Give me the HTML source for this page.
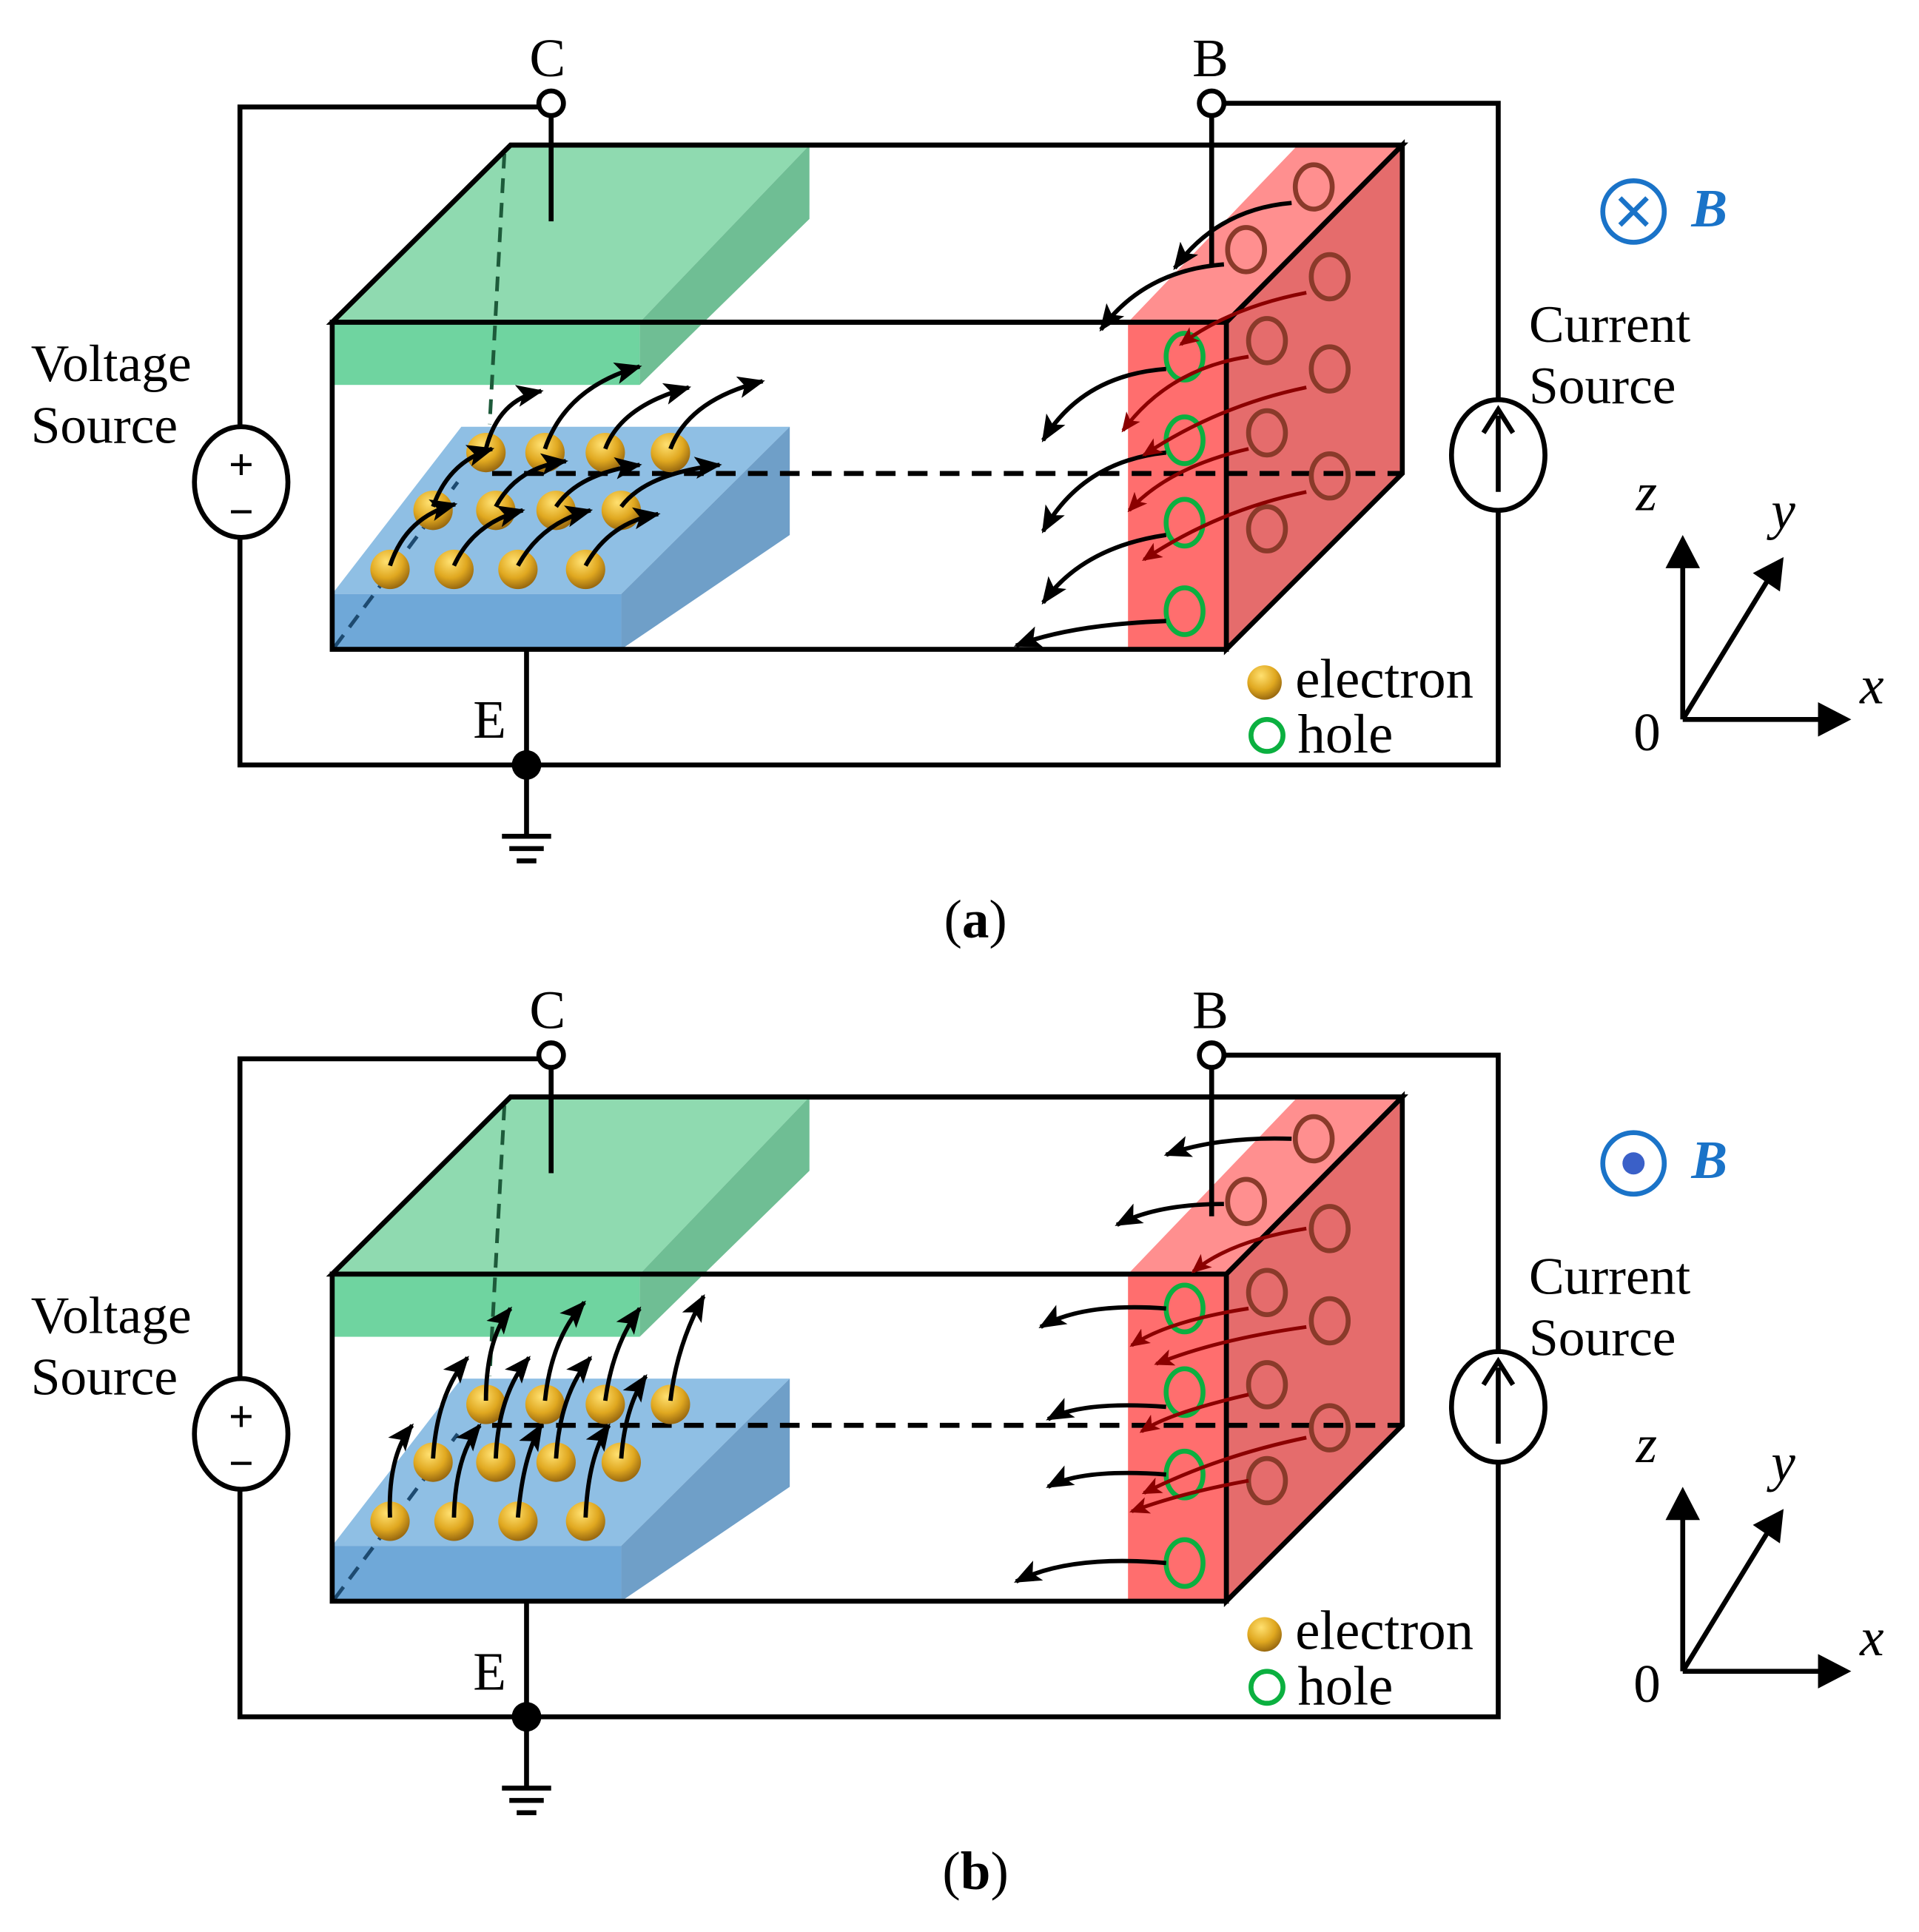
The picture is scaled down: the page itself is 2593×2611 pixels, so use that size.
<!DOCTYPE html>
<html><head><meta charset="utf-8"><style>
html,body{margin:0;padding:0;background:#fff}
svg{display:block}
text{font-family:"Liberation Serif",serif}
</style></head><body>
<svg width="2593" height="2611" viewBox="0 0 1560 1571" xmlns="http://www.w3.org/2000/svg">
<defs>
<marker id="ah" markerWidth="8" markerHeight="8" refX="6" refY="4" orient="auto" markerUnits="userSpaceOnUse" viewBox="0 0 8 8"><path d="M0,0 L8,4 L0,8 L2,4 z" fill="#000"/></marker>
<marker id="ab" markerWidth="22" markerHeight="18" refX="20" refY="9" orient="auto" markerUnits="userSpaceOnUse"><path d="M0,0 L22,9 L0,18 L5,9 z" fill="#000"/></marker>
<marker id="ar" markerWidth="16" markerHeight="14" refX="14" refY="7" orient="auto" markerUnits="userSpaceOnUse"><path d="M0,0 L16,7 L0,14 L4,7 z" fill="#8b0000"/></marker>
<radialGradient id="eg" cx="0.4" cy="0.3" r="0.7"><stop offset="0" stop-color="#ffe070"/><stop offset="0.6" stop-color="#e0a820"/><stop offset="1" stop-color="#9a6a10"/></radialGradient>
<g id="base">
  <!-- device -->
  <polygon points="270,262 415,118 1140,118 997,262" fill="#fff" stroke="#000" stroke-width="4"/>
  <polygon points="270,262 415,118 658,118 520,262" fill="#8fdab0"/>
  <polygon points="520,262 658,118 658,178 520,313" fill="#6fbe94"/>
  <rect x="270" y="262" width="250" height="51" fill="#6fd4a0"/>
  <polygon points="270,483 375,347 642,347 505,483" fill="#8fbfe4"/>
  <polygon points="505,483 642,347 642,435 505,528" fill="#6f9fc8"/>
  <rect x="270" y="483" width="235" height="45" fill="#6fa8d8"/>
  <polygon points="917,262 1055,118 1140,118 997,262" fill="#ff8f8f"/>
  <rect x="917" y="262" width="80" height="266" fill="#ff6e6e"/>
  <polygon points="997,262 1140,118 1140,385 997,528" fill="#e56c6c"/>
  <line x1="410" y1="125" x2="398" y2="345" stroke="#1d5a3a" stroke-width="3" stroke-dasharray="12,8"/>
  <line x1="272" y1="526" x2="372" y2="392" stroke="#1d4a70" stroke-width="3" stroke-dasharray="12,8"/>
  <line x1="400" y1="385" x2="1140" y2="385" stroke="#000" stroke-width="4" stroke-dasharray="16,10"/>
  <g fill="none" stroke="#000" stroke-width="4">
    <rect x="270" y="262" width="727" height="266"/>
    <polygon points="270,262 415,118 1140,118 997,262"/>
    <polygon points="997,262 1140,118 1140,385 997,528"/>
  </g>
  <!-- circuit wires -->
  <g fill="none" stroke="#000" stroke-width="4">
    <polyline points="438,87 195,87 195,622 1218,622 1218,84 995,84"/>
    <line x1="448" y1="94" x2="448" y2="180"/>
    <line x1="985" y1="94" x2="985" y2="215"/>
    <line x1="428" y1="528" x2="428" y2="680"/>
    <line x1="408" y1="680" x2="448" y2="680"/>
    <line x1="414" y1="690" x2="442" y2="690"/>
    <line x1="420" y1="700" x2="436" y2="700"/>
  </g>
  <circle cx="448" cy="84" r="10" fill="#fff" stroke="#000" stroke-width="4"/>
  <circle cx="985" cy="84" r="10" fill="#fff" stroke="#000" stroke-width="4"/>
  <circle cx="428" cy="622" r="12" fill="#000"/>
  <ellipse cx="196" cy="392" rx="38" ry="45" fill="#fff" stroke="#000" stroke-width="4"/>
  <text x="196" y="390" font-size="36" font-weight="bold" text-anchor="middle">+</text>
  <text x="196" y="428" font-size="36" font-weight="bold" text-anchor="middle">−</text>
  <ellipse cx="1218" cy="370" rx="38" ry="45" fill="#fff" stroke="#000" stroke-width="4"/>
  <line x1="1218" y1="400" x2="1218" y2="338" stroke="#000" stroke-width="4"/>
  <path d="M1206,352 L1218,333 L1230,352" fill="none" stroke="#000" stroke-width="4"/>
  <!-- holes -->
  <g fill="none" stroke="#0bb040" stroke-width="4">
    <ellipse cx="963" cy="290" rx="15" ry="19"/><ellipse cx="963" cy="358" rx="15" ry="19"/>
    <ellipse cx="963" cy="425" rx="15" ry="19"/><ellipse cx="963" cy="497" rx="15" ry="19"/>
  </g>
  <g fill="none" stroke="#8a3a2a" stroke-width="4">
    <ellipse cx="1068" cy="152" rx="15" ry="18"/><ellipse cx="1013" cy="203" rx="15" ry="18"/>
    <ellipse cx="1081" cy="225" rx="15" ry="18"/><ellipse cx="1030" cy="277" rx="15" ry="18"/>
    <ellipse cx="1081" cy="300" rx="15" ry="18"/><ellipse cx="1030" cy="352" rx="15" ry="18"/>
    <ellipse cx="1081" cy="387" rx="15" ry="18"/><ellipse cx="1030" cy="430" rx="15" ry="18"/>
  </g>
  <!-- electrons -->
  <g fill="url(#eg)">
    <circle cx="395" cy="368" r="16"/><circle cx="443" cy="368" r="16"/><circle cx="492" cy="368" r="16"/><circle cx="545" cy="368" r="16"/>
    <circle cx="352" cy="415" r="16"/><circle cx="403" cy="415" r="16"/><circle cx="452" cy="415" r="16"/><circle cx="505" cy="415" r="16"/>
    <circle cx="317" cy="463" r="16"/><circle cx="369" cy="463" r="16"/><circle cx="421" cy="463" r="16"/><circle cx="476" cy="463" r="16"/>
  </g>
  <!-- labels -->
  <text x="445" y="62" font-size="44" text-anchor="middle">C</text>
  <text x="984" y="62" font-size="44" text-anchor="middle">B</text>
  <text x="398" y="600" font-size="44" text-anchor="middle">E</text>
  <text x="25" y="310" font-size="43">Voltage</text>
  <text x="25" y="360" font-size="43">Source</text>
  <text x="1243" y="278" font-size="43">Current</text>
  <text x="1243" y="328" font-size="43">Source</text>
  <circle cx="1028" cy="555" r="14" fill="url(#eg)"/>
  <circle cx="1030" cy="598" r="13" fill="none" stroke="#0bb040" stroke-width="4"/>
  <text x="1053" y="567" font-size="45">electron</text>
  <text x="1055" y="612" font-size="45">hole</text>
  <circle cx="1328" cy="172" r="25" fill="none" stroke="#1a73c8" stroke-width="4"/>
  <text x="1375" y="184" font-size="44" font-style="italic" font-weight="bold" fill="#1a73c8">B</text>
  <!-- axes -->
  <g stroke="#000" stroke-width="4" fill="none">
    <line x1="1368" y1="585" x2="1368" y2="458"/>
    <line x1="1368" y1="585" x2="1482" y2="585"/>
    <line x1="1368" y1="585" x2="1437" y2="472"/>
  </g>
  <path d="M1354,462 L1368,435 L1382,462 z"/>
  <path d="M1478,571 L1505,585 L1478,599 z"/>
  <path d="M1425,466 L1450,453 L1447,481 z"/>
  <text x="1330" y="415" font-size="44" font-style="italic">z</text>
  <text x="1440" y="430" font-size="44" font-style="italic">y</text>
  <text x="1512" y="572" font-size="44" font-style="italic">x</text>
  <text x="1328" y="610" font-size="44">0</text>
</g>
</defs>

<!-- panel a -->
<use href="#base"/>
<g stroke="#1a73c8" stroke-width="4"><line x1="1317" y1="161" x2="1339" y2="183"/><line x1="1339" y1="161" x2="1317" y2="183"/></g>
<g fill="none" stroke="#000" stroke-width="3.5" marker-end="url(#ab)">
  <path d="M317,460 Q330,420 370,410"/><path d="M369,460 Q385,425 425,415"/>
  <path d="M421,460 Q440,425 480,415"/><path d="M476,460 Q495,425 535,418"/>
  <path d="M352,412 Q365,375 400,365"/><path d="M403,412 Q420,380 460,375"/>
  <path d="M452,412 Q470,385 520,378"/><path d="M505,412 Q525,385 585,378"/>
  <path d="M395,365 Q405,325 440,318"/><path d="M443,365 Q460,315 520,298"/>
  <path d="M492,365 Q505,330 560,315"/><path d="M545,365 Q560,325 620,310"/>
  <path d="M1050,165 Q990,170 955,218"/><path d="M995,215 Q930,220 895,268"/>
  <path d="M948,300 Q880,305 848,358"/><path d="M948,368 Q880,375 848,432"/>
  <path d="M948,435 Q880,445 848,490"/><path d="M948,505 Q870,508 826,525"/>
</g>
<g fill="none" stroke="#8b0000" stroke-width="3" marker-end="url(#ar)">
  <path d="M1062,238 Q1000,250 960,280"/><path d="M1015,290 Q950,300 913,350"/>
  <path d="M1062,315 Q990,330 930,370"/><path d="M1015,365 Q950,380 918,415"/>
  <path d="M1062,400 Q990,415 930,455"/>
</g>
<text x="793" y="762" font-size="44" text-anchor="middle">(<tspan font-weight="bold">a</tspan>)</text>

<!-- panel b -->
<g transform="translate(0,774)">
  <use href="#base"/>
  <circle cx="1328" cy="172" r="9" fill="#3a60c8"/>
  <g fill="none" stroke="#000" stroke-width="3.5" marker-end="url(#ab)">
    <path d="M317,460 Q315,410 335,385"/><path d="M369,460 Q370,410 390,385"/>
    <path d="M421,460 Q425,410 440,385"/><path d="M476,460 Q478,410 495,385"/>
    <path d="M352,412 Q355,360 380,330"/><path d="M403,412 Q405,360 430,330"/>
    <path d="M452,412 Q455,360 480,330"/><path d="M505,412 Q508,370 525,345"/>
    <path d="M395,365 Q395,315 415,290"/><path d="M443,365 Q448,315 475,285"/>
    <path d="M492,365 Q498,320 520,290"/><path d="M545,365 Q550,320 572,280"/>
    <path d="M1050,152 Q990,150 948,165"/><path d="M995,205 Q940,205 908,222"/>
    <path d="M948,290 Q880,285 846,305"/><path d="M948,370 Q880,365 852,380"/>
    <path d="M948,425 Q880,420 852,435"/><path d="M948,497 Q870,490 826,512"/>
  </g>
  <g fill="none" stroke="#8b0000" stroke-width="3" marker-end="url(#ar)">
    <path d="M1062,225 Q1000,235 970,260"/><path d="M1015,290 Q950,300 920,320"/>
    <path d="M1062,305 Q990,315 940,335"/><path d="M1015,360 Q950,375 928,390"/>
    <path d="M1062,395 Q990,410 930,440"/><path d="M1015,430 Q960,440 920,455"/>
  </g>
  <text x="793" y="762" font-size="44" text-anchor="middle">(<tspan font-weight="bold">b</tspan>)</text>
</g>
</svg>
</body></html>
